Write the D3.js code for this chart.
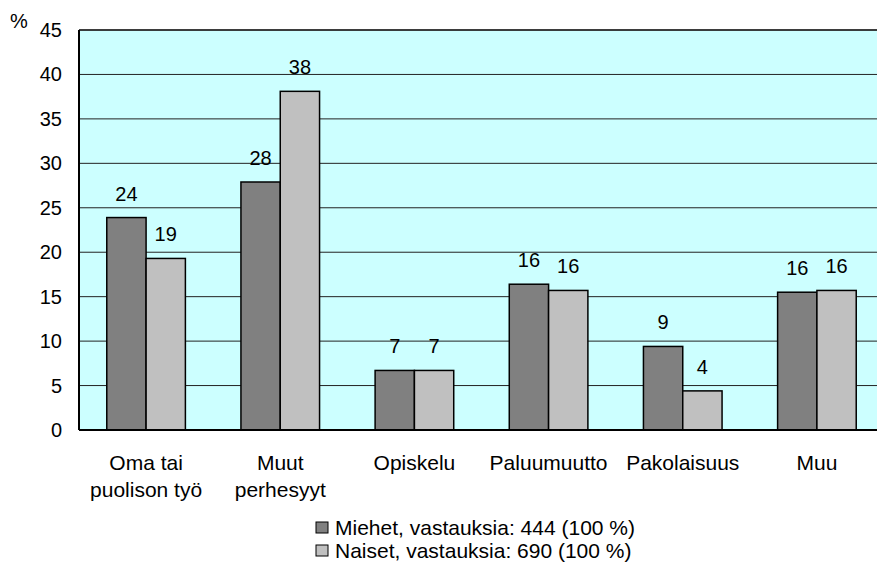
<!DOCTYPE html>
<html>
<head>
<meta charset="utf-8">
<script src="https://cdn.jsdelivr.net/npm/d3@7"></script>
<style>
  body { margin: 0; background: #fff; }
  svg text { font-family: "Liberation Sans", Arial, sans-serif; fill: #000; }
</style>
</head>
<body>
<div id="chart"></div>
<script>
// data
let categories = [["Oma tai", "puolison työ"], ["Muut", "perhesyyt"], ["Opiskelu"], ["Paluumuutto"], ["Pakolaisuus"], ["Muu"]];
let seriesNames = ["Miehet, vastauksia: 444 (100 %)", "Naiset, vastauksia: 690 (100 %)"];
let miehet = [23.9, 27.9, 6.7, 16.4, 9.4, 15.5];
let naiset = [19.3, 38.1, 6.7, 15.7, 4.4, 15.7];
let yTicks = [0, 5, 10, 15, 20, 25, 30, 35, 40, 45];
let colors = ["#808080", "#c0c0c0"];

let margin = { top: 30, right: -7, bottom: 137, left: 79 },
    width = 877 - margin.left - margin.right,
    height = 567 - margin.top - margin.bottom;

let svg = d3.select("#chart").append("svg")
    .attr("width", 877)
    .attr("height", 567)
    .style("display", "block");

let g = svg.append("g")
    .attr("transform", "translate(" + margin.left + "," + margin.top + ")");

let x = d3.scaleBand()
    .domain(d3.range(categories.length))
    .range([0, width]);

let y = d3.scaleLinear()
    .domain([0, 45])
    .range([height, 0]);

// plot background
g.append("rect")
    .attr("x", 0).attr("y", 0)
    .attr("width", width).attr("height", height)
    .attr("fill", "#ccffff");

// gridlines
g.selectAll(".grid")
    .data(yTicks.filter(d => d > 0))
    .enter().append("line")
    .attr("class", "grid")
    .attr("x1", 0).attr("x2", width)
    .attr("y1", d => y(d)).attr("y2", d => y(d))
    .attr("stroke", "#222")
    .attr("stroke-width", 1);

// y tick labels
g.selectAll(".ytick")
    .data(yTicks)
    .enter().append("text")
    .attr("class", "ytick")
    .attr("x", -17)
    .attr("y", d => y(d))
    .attr("dy", "0.35em")
    .attr("text-anchor", "end")
    .style("font-size", "20px")
    .text(d => d);

svg.append("text")
    .attr("x", 10).attr("y", 28)
    .style("font-size", "20px")
    .text("%");

// bars
let barW = x.bandwidth() * 0.293;
let series = [miehet, naiset];
series.forEach(function (vals, s) {
    let grp = g.append("g").attr("class", "series" + s);
    grp.selectAll("rect")
        .data(vals)
        .enter().append("rect")
        .attr("x", (d, i) => x(i) + x.bandwidth() / 2 - barW + s * barW)
        .attr("y", d => y(d))
        .attr("width", barW)
        .attr("height", d => height - y(d))
        .attr("fill", colors[s])
        .attr("stroke", "#000")
        .attr("stroke-width", 1.5);
    grp.selectAll("text")
        .data(vals)
        .enter().append("text")
        .attr("x", (d, i) => x(i) + x.bandwidth() / 2 - barW / 2 + s * barW)
        .attr("y", d => y(d) - 17)
        .attr("text-anchor", "middle")
        .style("font-size", "20px")
        .text(d => Math.round(d));
});

// plot frame
g.append("line")
    .attr("x1", 0).attr("x2", width).attr("y1", 0).attr("y2", 0)
    .attr("stroke", "#222").attr("stroke-width", 1.5);
g.append("line")
    .attr("x1", 0).attr("x2", 0).attr("y1", 0).attr("y2", height)
    .attr("stroke", "#000").attr("stroke-width", 2);
g.append("line")
    .attr("x1", 0).attr("x2", width).attr("y1", height).attr("y2", height)
    .attr("stroke", "#000").attr("stroke-width", 2);

// category labels
let cat = g.selectAll(".cat")
    .data(categories)
    .enter().append("text")
    .attr("class", "cat")
    .attr("text-anchor", "middle")
    .style("font-size", "21px");
cat.selectAll("tspan")
    .data((d, i) => d.map(t => ({ t: t, i: i })))
    .enter().append("tspan")
    .attr("x", d => x(d.i) + x.bandwidth() / 2)
    .attr("y", (d, j) => height + 40 + j * 27)
    .text(d => d.t);

// legend
let legend = svg.append("g").attr("transform", "translate(316,522)");
seriesNames.forEach(function (name, s) {
    legend.append("rect")
        .attr("x", 0).attr("y", s * 23)
        .attr("width", 12).attr("height", 11)
        .attr("fill", colors[s])
        .attr("stroke", "#000")
        .attr("stroke-width", 1);
    legend.append("text")
        .attr("x", 19).attr("y", s * 23 + 13)
        .style("font-size", "21px")
        .text(name);
});
</script>
</body>
</html>
